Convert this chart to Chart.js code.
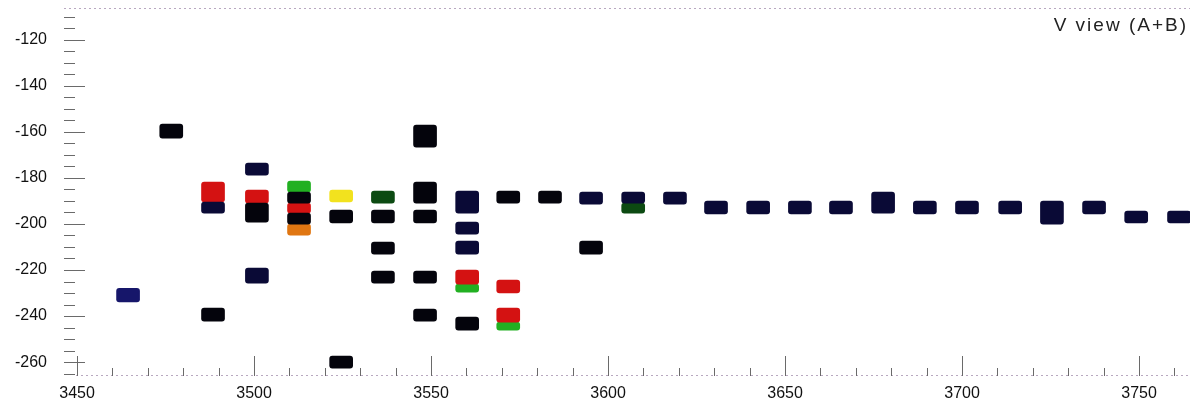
<!DOCTYPE html>
<html>
<head>
<meta charset="utf-8">
<script src="https://cdn.jsdelivr.net/npm/chart.js@4.4.1/dist/chart.umd.min.js"></script>
<style>
  html, body { margin: 0; padding: 0; background: #fff; }
  #wrap { width: 1192px; height: 402px; }
</style>
</head>
<body>
<div id="wrap"><canvas id="gel" width="1192" height="402"></canvas></div>
<script>
// lane centres (x axis units)
const lanes = [3464.4, 3476.6, 3488.4, 3500.8, 3512.7, 3524.6, 3536.4, 3548.3, 3560.2,
  3571.8, 3583.6, 3595.2, 3607.1, 3618.9, 3630.5, 3642.4, 3654.2, 3665.8, 3677.7,
  3689.5, 3701.4, 3713.6, 3725.4, 3737.3, 3749.2, 3761.3];

// bands: [lane index, low, high]
const blackBands = [
  [1, -162.8, -156.7], [2, -242.2, -236.5], [3, -199.2, -191.0],
  [4, -191.0, -186.2], [4, -200.1, -195.3],
  [5, -199.6, -194.0], [5, -262.6, -257.4],
  [6, -199.6, -194.0], [6, -213.1, -207.9], [6, -225.7, -220.5],
  [7, -166.7, -157.1], [7, -191.0, -181.8], [7, -199.6, -194.0], [7, -225.7, -220.5], [7, -242.2, -237.0],
  [8, -246.1, -240.4], [9, -191.0, -185.8], [10, -191.0, -185.8], [11, -213.1, -207.5]
];
const navyBands = [
  [2, -195.3, -190.5], [3, -178.8, -173.6], [3, -225.7, -219.2],
  [8, -195.3, -185.8], [8, -204.4, -199.2], [8, -213.1, -207.5],
  [11, -191.4, -186.2], [12, -191.0, -186.2], [13, -191.4, -186.2],
  [14, -195.7, -190.1], [15, -195.7, -190.1], [16, -195.7, -190.1], [17, -195.7, -190.1],
  [18, -195.3, -186.2], [19, -195.7, -190.1], [20, -195.7, -190.1], [21, -195.7, -190.1],
  [22, -200.1, -190.1], [23, -195.7, -190.1], [24, -199.6, -194.4], [25, -199.6, -194.4]
];
const blueBands = [[0, -233.9, -227.9]];
const redBands = [
  [2, -190.5, -181.8], [3, -191.0, -185.3], [4, -195.3, -191.0],
  [8, -226.1, -220.0], [9, -230.0, -224.4], [9, -242.6, -236.5]
];
const greenBands = [[4, -186.2, -181.4], [8, -229.6, -226.1], [9, -246.1, -242.6]];
const darkGreenBands = [[6, -191.0, -185.8], [12, -195.3, -191.0]];
const orangeBands = [[4, -204.9, -200.1]];
const yellowBands = [[5, -190.5, -185.3]];

const xMin = 3446.3, xMax = 3764.4;
const yMin = -266, yMax = -106.3;
const titleText = 'V view (A+B)';

function toPoints(bands) {
  return bands.map(b => ({ x: lanes[b[0]], y: [b[1], b[2]] }));
}

function band(bands, color) {
  return {
    data: toPoints(bands),
    backgroundColor: color,
    borderWidth: 0,
    borderRadius: 3,
    borderSkipped: false,
    barThickness: 23,
    grouped: false
  };
}

// draws the inward tick marks, frame lines and title
const gelDecor = {
  id: 'gelDecor',
  afterDraw(chart) {
    const ctx = chart.ctx;
    const a = chart.chartArea;
    const xs = chart.scales.x, ys = chart.scales.y;
    ctx.save();
    ctx.lineWidth = 1;

    ctx.strokeStyle = '#b8a8c0';
    ctx.setLineDash([2, 3]);
    ctx.beginPath();
    ctx.moveTo(a.left, a.top + 0.5); ctx.lineTo(a.right, a.top + 0.5);
    ctx.moveTo(a.left + 12, a.bottom - 0.5); ctx.lineTo(a.right, a.bottom - 0.5);
    ctx.stroke();
    ctx.setLineDash([]);

    ctx.strokeStyle = '#6a6a6a';
    ys.ticks.forEach(t => {
      if (t.value % 5 !== 0) return;
      const py = Math.round(ys.getPixelForValue(t.value)) + 0.5;
      const len = t.value % 20 === 0 ? 21 : 11;
      ctx.beginPath();
      ctx.moveTo(a.left, py); ctx.lineTo(a.left + len, py);
      ctx.stroke();
    });
    xs.ticks.forEach(t => {
      if (t.value % 10 !== 0) return;
      const px = Math.round(xs.getPixelForValue(t.value)) + 0.5;
      const len = t.value % 50 === 0 ? 20 : 8;
      ctx.beginPath();
      ctx.moveTo(px, a.bottom); ctx.lineTo(px, a.bottom - len);
      ctx.stroke();
    });

    ctx.fillStyle = '#222';
    ctx.font = '19px "Liberation Sans", Arial, sans-serif';
    ctx.letterSpacing = '2px';
    ctx.textAlign = 'right';
    ctx.textBaseline = 'middle';
    ctx.fillText(titleText, a.right - 2, 26);
    ctx.restore();
  }
};

new Chart(document.getElementById('gel'), {
  type: 'bar',
  data: {
    datasets: [
      band(blackBands, '#04040c'),
      band(navyBands, '#0a0a36'),
      band(blueBands, '#16166a'),
      band(redBands, '#d41212'),
      band(greenBands, '#22b022'),
      band(darkGreenBands, '#0c4a12'),
      band(orangeBands, '#e07612'),
      band(yellowBands, '#f2e21e')
    ]
  },
  options: {
    responsive: false,
    animation: false,
    devicePixelRatio: 1,
    layout: { padding: { top: 8, right: 2, left: 0, bottom: 0 } },
    plugins: {
      legend: { display: false },
      tooltip: { enabled: false },
      title: { display: false }
    },
    scales: {
      x: {
        type: 'linear',
        min: xMin,
        max: xMax,
        offset: false,
        grid: { display: false, drawTicks: false },
        border: { display: false },
        afterFit: s => { s.height = 26; s.paddingLeft = 0; s.paddingRight = 0; },
        ticks: {
          stepSize: 10,
          includeBounds: false,
          autoSkip: false,
          maxRotation: 0,
          padding: 8,
          color: '#111',
          font: { size: 16, family: '"Liberation Sans", Arial, sans-serif' },
          callback: v => (v % 50 === 0 ? String(v) : '')
        }
      },
      y: {
        min: yMin,
        max: yMax,
        grid: { display: false, drawTicks: false },
        border: { display: false },
        afterFit: s => { s.width = 64; s.paddingTop = 0; s.paddingBottom = 0; },
        ticks: {
          stepSize: 5,
          includeBounds: false,
          autoSkip: false,
          padding: 17,
          color: '#111',
          font: { size: 16, family: '"Liberation Sans", Arial, sans-serif' },
          callback: v => (v % 20 === 0 ? String(v) : '')
        }
      }
    }
  },
  plugins: [gelDecor]
});
</script>
</body>
</html>
